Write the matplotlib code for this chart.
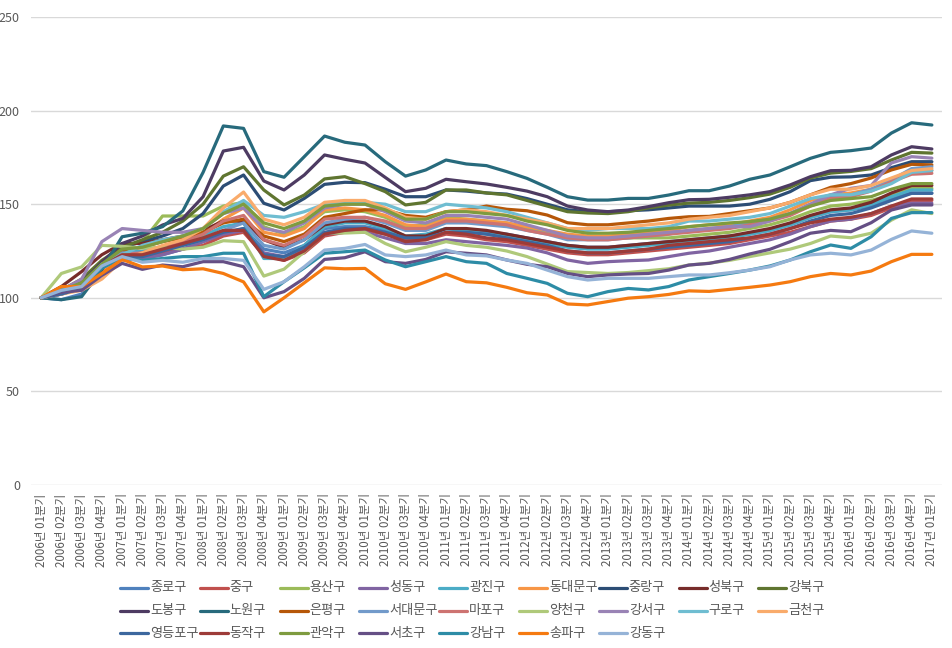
import matplotlib
matplotlib.use("Agg")
import matplotlib.pyplot as plt
from matplotlib.lines import Line2D

plt.rcParams['font.family'] = ['Noto Sans CJK KR', 'DejaVu Sans']

# ---- categories ----
years = list(range(2006, 2018))
quarter_labels = []
for yv in years:
    for q in range(1, 5):
        if yv == 2017 and q > 1:
            break
        quarter_labels.append(f"{yv}년 {q:02d}분기")

names = ["종로구", "중구", "용산구", "성동구", "광진구", "동대문구", "중랑구", "성북구", "강북구",
         "도봉구", "노원구", "은평구", "서대문구", "마포구", "양천구", "강서구", "구로구", "금천구",
         "영등포구", "동작구", "관악구", "서초구", "강남구", "송파구", "강동구"]

colors = ["#4F81BD", "#C0504D", "#9BBB59", "#8064A2", "#4BACC6", "#F79646", "#2C4D75", "#772C2A", "#5F7530",
          "#4D3B62", "#276A7C", "#B65708", "#729ACA", "#CD7371", "#AFC97A", "#9983B5", "#6FBDD1", "#F9AB6B",
          "#3C679E", "#9D3B38", "#7E9B3F", "#654F85", "#2D8CA6", "#F57A10", "#95B3D7"]

# ---- series values ----
jongno = [100, 99, 102, 113, 120, 121, 123, 126, 130, 134, 137, 126, 124, 128, 137, 138, 138, 136, 132, 133,
          137, 136, 135, 134, 132, 130, 128, 127, 127, 128, 129, 130, 131, 132, 133, 134, 136, 139, 143, 146,
          147, 149, 153, 156, 156]
junggu = [100, 104, 106, 116, 122, 122, 124, 126, 128, 133, 135, 123, 120, 124, 133, 135, 136, 134, 131, 131,
          134, 133, 131, 130, 128, 126, 124, 123, 123, 124, 125, 126, 127, 128, 129, 131, 133, 135, 138, 141,
          142, 144, 148, 152, 152]
yongsan = [100, 104, 108, 119, 127, 130, 143.7, 143.7, 143.7, 149, 151, 138, 134, 138, 146, 147, 146, 143, 138, 139,
           143, 142, 141, 140, 137, 135, 133, 132, 132, 132, 132, 132, 133, 134, 135, 137, 139, 142, 146, 149,
           150, 152, 155, 158.5, 158.5]
seongdong = [100, 102, 105, 115, 121, 121, 123, 126, 130, 134, 136, 124, 122, 126, 134, 135, 135, 132, 129, 129,
             131, 130, 129, 128, 126.6, 124, 120.2, 118.4, 119.3, 119.8, 120.2, 122, 123.8, 125, 127, 129,
             131, 134, 138, 141, 142, 145, 149, 150.5, 150.5]
gwangjin = [100, 103, 106, 117, 124, 125, 127, 130, 133, 138, 140, 121, 121, 128, 138, 140, 140, 137, 133, 134,
            137, 136, 134, 133, 131, 129, 127, 126, 126, 127, 128, 129, 130, 131, 132, 134, 136, 139, 143, 146,
            147, 150, 154, 157.6, 157.6]
dongdaemun = [100, 102, 105, 115, 122, 124, 127, 130, 134, 142, 148, 135, 133, 137, 147, 148, 147, 144, 139, 138,
              142, 142, 141, 140, 138, 136, 134, 133, 133, 134, 135, 136, 138, 139, 139, 141, 143, 147, 152, 155,
              156, 158, 162, 167, 168]
jungnang = [100, 102, 106, 117, 127, 130, 133, 137, 145, 159.7, 165.6, 150.5, 146.9, 153.1, 160.6, 161.7,
            161.5, 158, 154, 154, 157.6, 157, 156, 155.4, 153, 150, 147, 146, 146, 146.5, 147, 148,
            149, 149, 149, 150, 152.6, 156.7, 162.6, 164.4, 164.6, 165.6, 169.5, 172.7, 172.7]
seongbuk = [100, 106, 114, 123, 129, 129, 131, 133, 136, 141, 141, 131, 127, 131, 139, 141, 141, 138, 133, 133,
            137, 137, 136, 134, 132, 130, 128, 127, 127, 128, 129, 130, 131, 132, 133, 135, 137, 140, 144, 147,
            148, 151, 156, 160, 160]
gangbuk = [100, 104, 110, 120, 127, 131, 135, 141, 150, 165, 170, 157.6, 149.6, 154.9, 163.5, 164.7,
           161, 156.7, 149.6, 151, 157.6, 157.6, 156, 155, 152, 149, 146, 145.3, 145, 146, 148, 149.5,
           150.6, 151, 152, 153.5, 155.4, 159, 164, 166.6, 167.5, 169, 173.6, 177.7, 177.3]
dobong = [100, 104, 108, 119, 129, 133, 138.9, 142.4, 154, 178.4, 180.4, 162.4, 157.6, 165.6, 176.3, 174,
          172, 164.3, 156.7, 158.5, 163.3, 162, 160.8, 159, 157, 154, 149, 146.9, 146, 146.9, 148.7, 150.8,
          152.4, 152.6, 153.7, 155, 156.7, 160.3, 164.7, 167.9, 168.1, 170, 176.3, 180.7, 179.5]
nowon = [100, 99, 100.6, 115, 132.6, 134.5, 138, 146.4, 167, 191.8, 190.5, 167.4, 164.4, 175.4, 186.4, 183.1,
         181.6, 172.7, 165, 168.3, 173.6, 171.5, 170.6, 167.4, 163.8, 159, 154, 152.2, 152.2, 153.1, 153.1, 154.9,
         157.2, 157.2, 159.7, 163.3, 165.6, 170, 174.5, 177.7, 178.6, 180, 188, 193.5, 192.3]
eunpyeong = [100, 103, 106, 117, 125, 127, 130, 132, 135, 140, 142, 133, 130, 134, 143, 145, 147, 147, 144, 143,
             146, 147, 149, 147.3, 146.5, 144.2, 140.1, 139, 139, 140, 141, 142.4, 143.3, 143.5, 145, 146.5,
             148, 151, 155, 159, 161, 164, 168.3, 171.3, 171]
seodaemun = [100, 102, 105, 117, 124, 124, 126, 128, 131, 136, 140, 128, 126, 131, 140, 142, 143, 140, 136, 136,
             140, 140, 139, 138, 136, 134, 131, 131, 131, 132, 133, 134, 136, 137, 138, 140, 142, 145, 150, 154,
             155, 158, 163, 169, 170]
mapo = [100, 103, 106, 116, 123, 124, 127, 130, 134, 141, 144, 131, 128, 133, 142, 143, 143, 141, 137, 137,
        141, 141, 140, 139, 136, 134, 132, 131, 131, 132, 133, 134, 135, 136, 137, 139, 141, 144, 149, 153,
        154, 157, 162, 166, 166.5]
yangcheon = [100, 113, 116.5, 128, 127.5, 126.5, 127, 126, 127, 130.5, 130, 111.6, 115.3, 124.6, 134.6, 134.6,
             135, 129, 124.6, 127, 130, 128, 127, 125, 122, 118, 114, 113.5, 113, 113.5, 114.5, 115.5,
             117.5, 118.5, 120, 122, 124, 126, 129, 133, 132.1, 134.5, 141.5, 147, 145]
gangseo = [100, 104, 110, 130, 137, 136, 135, 135, 137, 145, 148, 137, 135, 140, 148, 150, 150, 146, 141, 140,
           144, 144, 143, 142, 139, 136, 133, 132, 132, 133, 134, 135, 136, 137, 138, 138, 141, 145, 150, 155,
           158.5, 160, 172, 175.4, 174.6]
guro = [100, 103, 107, 118, 123, 128, 131, 133, 137, 146, 152, 144, 143, 146, 150, 151, 151, 150, 146, 146,
        150, 149, 148, 146, 143, 140, 137, 136, 137, 137, 137, 138, 141, 141, 142, 143, 145, 149, 153, 155,
        155, 157, 161, 167, 168]
geumcheon = [100, 102, 104, 110, 120, 124, 128, 131, 137, 148, 156.5, 142, 139, 143, 151, 152, 152, 148, 143, 142,
             146, 147, 146, 144, 142, 140, 137, 137, 137, 138, 139, 140, 142, 143, 144, 146, 148, 151, 155, 158,
             158, 160, 164, 168, 169]
yeongdeungpo = [100, 102, 105, 116, 122, 122, 125, 128, 131, 135, 137, 123, 122, 127, 135, 137, 137, 135, 132, 132,
                135, 135, 134, 132, 130, 128, 125, 124, 124, 125, 126, 127, 128, 129, 130, 132, 134, 137, 141, 144,
                145, 148, 152, 155.8, 155.8]
dongjak = [100, 104, 107, 117, 123, 123, 126, 129, 132, 136, 136, 122, 120, 125, 134, 136, 137, 134, 130, 131,
           135, 134, 132, 131, 129, 127, 125, 124, 124, 125, 126, 128, 129, 130, 131, 132, 134, 137, 140, 142,
           143, 145, 149, 152.8, 152.8]
gwanak = [100, 104, 108, 118, 126, 127, 130, 133, 137, 145, 150, 140, 137, 141, 149, 150, 150, 147, 142, 142,
          146, 146, 145, 144, 141, 139, 136, 134.5, 134.5, 135, 136, 137, 138, 139, 140, 140.7, 142, 145, 149, 152,
          153, 154, 158, 161, 161]
seocho = [100, 103, 104, 112, 118.4, 115.2, 117.5, 116.6, 119.3, 119.3, 116.6, 100, 103.3, 110.4, 120.5, 121.4,
          124.6, 119.3, 118.4, 120.5, 124.6, 123.8, 122.9, 120.2, 117.9, 116.6, 113, 111.3, 112.2, 112.7, 113, 114.8,
          117.5, 118.4, 120.5, 123.4, 125.9, 130, 134.5, 136, 135.3, 140.1, 146.9, 149.6, 149.6]
gangnam = [100, 104, 106, 116, 121, 120, 121, 122, 122, 123.8, 123.8, 100.6, 108.6, 116, 123.8, 124.6,
           125.5, 120.2, 116.6, 119.3, 122, 119.3, 118.4, 113, 110.4, 107.7, 102.4, 100.6, 103.3, 105, 104.2, 106,
           109.5, 111.3, 113, 114.8, 117, 120.2, 124.6, 128.2, 126.4, 132.6, 142.4, 145.5, 145.5]
songpa = [100, 106, 106, 113, 120.5, 116.5, 117, 115, 115.5, 113, 108.5, 92.5, 100, 108, 116, 115.5,
          115.7, 107.5, 104.5, 108.5, 112.7, 108.6, 108, 105.6, 102.7, 101.5, 96.7, 96.2, 98, 99.8, 100.6, 101.8,
          103.7, 103.4, 104.5, 105.6, 106.8, 108.6, 111.3, 113, 112.2, 114.3, 119.3, 123.2, 123.2]
gangdong = [100, 104, 106, 117, 122, 119, 120, 119, 121, 121, 120, 104.5, 108.6, 116.6, 125.5, 126.4,
            128.5, 122.9, 122, 122.9, 125.5, 122.9, 122.4, 120.2, 118.4, 114.8, 111.3, 109.5, 110.4, 110.4, 110.4, 111.3,
            112.2, 112.2, 113.4, 114.8, 116.6, 120.2, 122.9, 123.8, 122.9, 125.5, 131.2, 135.7, 134.5]

series = [jongno, junggu, yongsan, seongdong, gwangjin, dongdaemun, jungnang, seongbuk, gangbuk,
          dobong, nowon, eunpyeong, seodaemun, mapo, yangcheon, gangseo, guro, geumcheon,
          yeongdeungpo, dongjak, gwanak, seocho, gangnam, songpa, gangdong]

yticks = [0, 50, 100, 150, 200, 250]

# ---- figure ----
W, H = 952, 648
fig = plt.figure(figsize=(W / 100, H / 100), dpi=100)
ax = fig.add_axes([31 / W, 1 - 485 / H, (942 - 31) / W, (485 - 17) / H])

x = list(range(len(quarter_labels)))
for vals, c in zip(series, colors):
    ax.plot(x, vals, color=c, lw=2.3, solid_joinstyle='round', solid_capstyle='round')

ax.set_xlim(-0.5, len(quarter_labels) - 0.5)
ax.set_ylim(0, 250)
ax.set_yticks(yticks)
ax.set_yticklabels([str(v) for v in yticks], fontsize=9, color='#595959')
ax.set_xticks(x)
ax.set_xticklabels(quarter_labels, rotation=90, fontsize=8.3, color='#595959')
ax.tick_params(axis='both', length=0)
ax.tick_params(axis='y', pad=8)
ax.tick_params(axis='x', pad=6)
for s in ax.spines.values():
    s.set_visible(False)
ax.yaxis.grid(True, color='#D9D9D9', lw=1)
ax.set_axisbelow(True)

# ---- legend (Excel-like, uniform columns, row-major) ----
col_x0, col_dx = 120, 79.8
row_y = [588, 610.5, 633]
ncols = 9
for i, (nm, c) in enumerate(zip(names, colors)):
    r, cidx = divmod(i, ncols)
    x0 = col_x0 + cidx * col_dx
    yy = 1 - row_y[r] / H
    fig.add_artist(Line2D([x0 / W, (x0 + 28) / W], [yy, yy], color=c, lw=2.3,
                          solid_capstyle='round', transform=fig.transFigure))
    fig.text((x0 + 30) / W, yy, nm, fontsize=9.5, color='#595959', va='center', ha='left')

fig.savefig("out.png", dpi=100, facecolor='white')
